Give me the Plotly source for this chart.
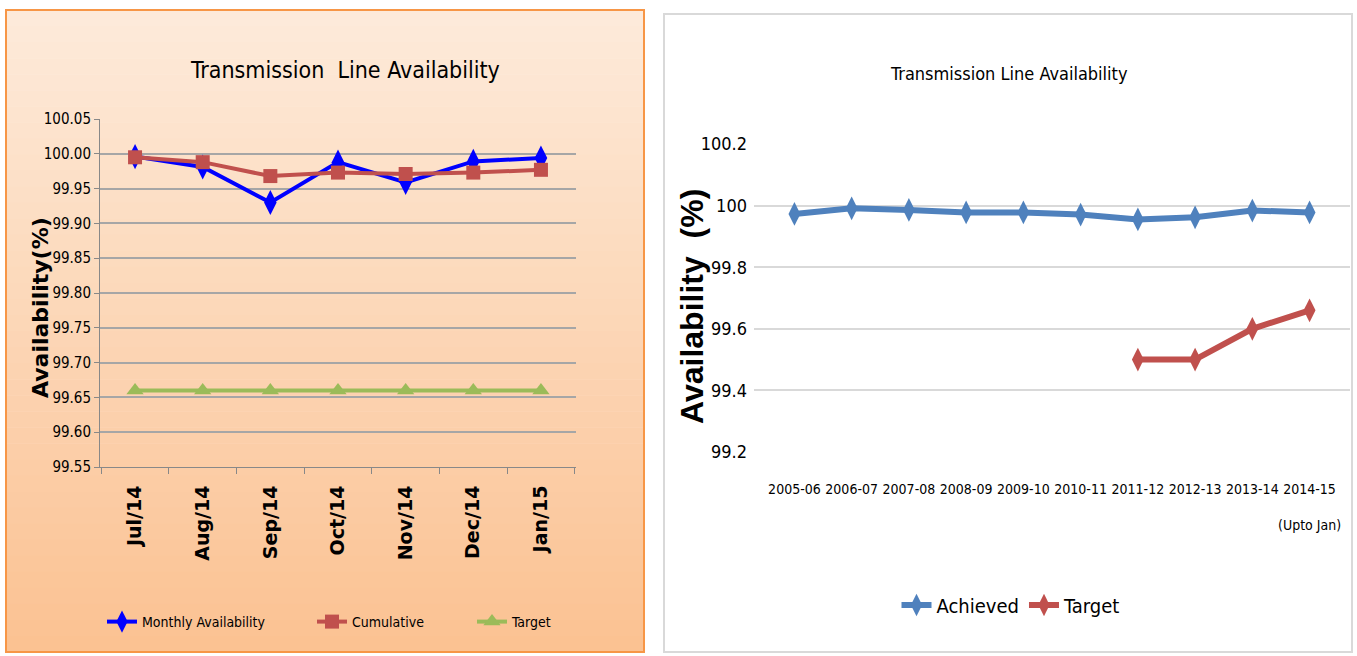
import plotly.graph_objects as go

# ---- data: left chart (monthly) ----
months = ["Jul/14", "Aug/14", "Sep/14", "Oct/14", "Nov/14", "Dec/14", "Jan/15"]
monthly_avail = [99.996, 99.981, 99.930, 99.988, 99.959, 99.989, 99.994]
cumulative = [99.995, 99.988, 99.968, 99.973, 99.971, 99.973, 99.977]
target_month = [99.66, 99.66, 99.66, 99.66, 99.66, 99.66, 99.66]

# ---- data: right chart (yearly) ----
years = ["2005-06", "2006-07", "2007-08", "2008-09", "2009-10", "2010-11",
         "2011-12", "2012-13", "2013-14", "2014-15 (Upto Jan)"]
year_tick_labels = ["2005-06", "2006-07", "2007-08", "2008-09", "2009-10", "2010-11",
                    "2011-12", "2012-13", "2013-14", "2014-15<br><br>(Upto Jan)"]
achieved = [99.973, 99.991, 99.986, 99.978, 99.978, 99.971, 99.955, 99.962, 99.984, 99.978]
target_year = [None, None, None, None, None, None, 99.5, 99.5, 99.6, 99.66]

W, H = 1357, 656
NARROW = "Liberation Sans Narrow, DejaVu Sans Condensed, sans-serif"

def px(x):
    return x / W

def py(y):
    return 1 - y / H

fig = go.Figure()

fig.add_trace(go.Scatter(x=months, y=monthly_avail, name="Monthly Availability",
                         mode="lines+markers", line=dict(color="#0000FF", width=4),
                         marker=dict(symbol="diamond-tall", size=18, color="#0000FF"),
                         xaxis="x", yaxis="y", legend="legend"))
fig.add_trace(go.Scatter(x=months, y=cumulative, name="Cumulative",
                         mode="lines+markers", line=dict(color="#C0504D", width=4),
                         marker=dict(symbol="square", size=14, color="#C0504D"),
                         xaxis="x", yaxis="y", legend="legend2"))
fig.add_trace(go.Scatter(x=months, y=target_month, name="Target",
                         mode="lines+markers", line=dict(color="#9BBB59", width=4),
                         marker=dict(symbol="triangle-up", size=15, color="#9BBB59"),
                         xaxis="x", yaxis="y", legend="legend3"))

fig.add_trace(go.Scatter(x=years, y=achieved, name="Achieved",
                         mode="lines+markers", line=dict(color="#4F81BD", width=6),
                         marker=dict(symbol="diamond-tall", size=17, color="#4F81BD"),
                         xaxis="x2", yaxis="y2", legend="legend4"))
fig.add_trace(go.Scatter(x=years, y=target_year, name="Target",
                         mode="lines+markers", line=dict(color="#C0504D", width=6),
                         marker=dict(symbol="diamond-tall", size=17, color="#C0504D"),
                         xaxis="x2", yaxis="y2", legend="legend4"))

# background gradient for left panel
shapes = []
top = (253, 234, 218)
bot = (251, 194, 146)
x0, x1, y0, y1 = 6, 644, 10, 652
n = 40
for i in range(n):
    t = i / (n - 1)
    c = tuple(int(round(top[k] + (bot[k] - top[k]) * t)) for k in range(3))
    ya = y0 + (y1 - y0) * i / n
    yb = y0 + (y1 - y0) * (i + 1) / n + 0.5
    shapes.append(dict(type="rect", xref="paper", yref="paper", layer="below",
                       x0=px(x0), x1=px(x1), y0=py(ya), y1=py(yb),
                       fillcolor="rgb(%d,%d,%d)" % c, line=dict(width=0)))
shapes.append(dict(type="rect", xref="paper", yref="paper", layer="above",
                   x0=px(x0), x1=px(x1), y0=py(y0), y1=py(y1),
                   line=dict(color="#F79646", width=2)))
shapes.append(dict(type="rect", xref="paper", yref="paper", layer="above",
                   x0=px(664), x1=px(1352), y0=py(14), y1=py(652),
                   line=dict(color="#D9D9D9", width=2)))

annotations = [
    dict(text="Transmission  Line Availability", x=px(345), y=py(70), xref="paper", yref="paper",
         xanchor="center", yanchor="middle", showarrow=False,
         font=dict(family=NARROW, size=23, color="#000")),
    dict(text="Transmission Line Availability", x=px(1009), y=py(73), xref="paper", yref="paper",
         xanchor="center", yanchor="middle", showarrow=False,
         font=dict(family=NARROW, size=18, color="#000")),
    dict(text="Availability(%)", x=px(40), y=py(308), xref="paper", yref="paper",
         xanchor="center", yanchor="middle", textangle=-90, showarrow=False,
         font=dict(family="DejaVu Sans", size=22, color="#000", weight="bold")),
    dict(text="Availability  (%)", x=px(692), y=py(307), xref="paper", yref="paper",
         xanchor="center", yanchor="middle", textangle=-90, showarrow=False,
         font=dict(family="Liberation Sans, Arial", size=32, color="#000", weight="bold")),
]

leg_font = dict(family=NARROW, size=14, color="#000")

fig.update_layout(
    width=W, height=H, margin=dict(l=0, r=0, t=0, b=0, autoexpand=False),
    paper_bgcolor="white", plot_bgcolor="white", showlegend=True,
    shapes=shapes, annotations=annotations,
    xaxis=dict(domain=[px(100), px(576)], type="category", anchor="y",
               tickangle=-90, tickson="boundaries", ticks="outside", ticklen=6,
               tickcolor="#888", showline=True, linecolor="#888", showgrid=False,
               ticklabelstandoff=10,
               tickfont=dict(family="DejaVu Sans", size=19, color="#000", weight="bold")),
    yaxis=dict(domain=[py(467), py(119)], range=[99.55, 100.05], dtick=0.05,
               tickformat=".2f", anchor="x", showline=True, linecolor="#888",
               ticks="outside", ticklen=5, tickcolor="#888",
               gridcolor="#A6A6A6", gridwidth=1.5, zeroline=False,
               tickfont=dict(family=NARROW, size=15, color="#000")),
    xaxis2=dict(domain=[px(754), px(1350)], type="category", anchor="y2", tickangle=0,
                tickvals=years, ticktext=year_tick_labels,
                showgrid=False, showline=False, ticks="", ticklabelstandoff=27,
                tickfont=dict(family=NARROW, size=14, color="#000")),
    yaxis2=dict(domain=[py(452), py(144)], range=[99.2, 100.2], dtick=0.2,
                anchor="x2", showline=False, gridcolor="#D9D9D9", gridwidth=1.5,
                zeroline=False, ticks="", ticklabelstandoff=6,
                tickfont=dict(family=NARROW, size=18, color="#000")),
    legend=dict(x=px(102), y=py(622), xanchor="left", yanchor="middle",
                bgcolor="rgba(0,0,0,0)", font=leg_font),
    legend2=dict(x=px(312), y=py(622), xanchor="left", yanchor="middle",
                 bgcolor="rgba(0,0,0,0)", font=leg_font),
    legend3=dict(x=px(472), y=py(622), xanchor="left", yanchor="middle",
                 bgcolor="rgba(0,0,0,0)", font=leg_font),
    legend4=dict(x=px(1011), y=py(605), xanchor="center", yanchor="middle",
                 orientation="h", bgcolor="rgba(0,0,0,0)",
                 font=dict(family=NARROW, size=20, color="#000")),
)

fig.write_html("out.html", config={"displayModeBar": False},
               post_script="document.body.style.margin='0';")
